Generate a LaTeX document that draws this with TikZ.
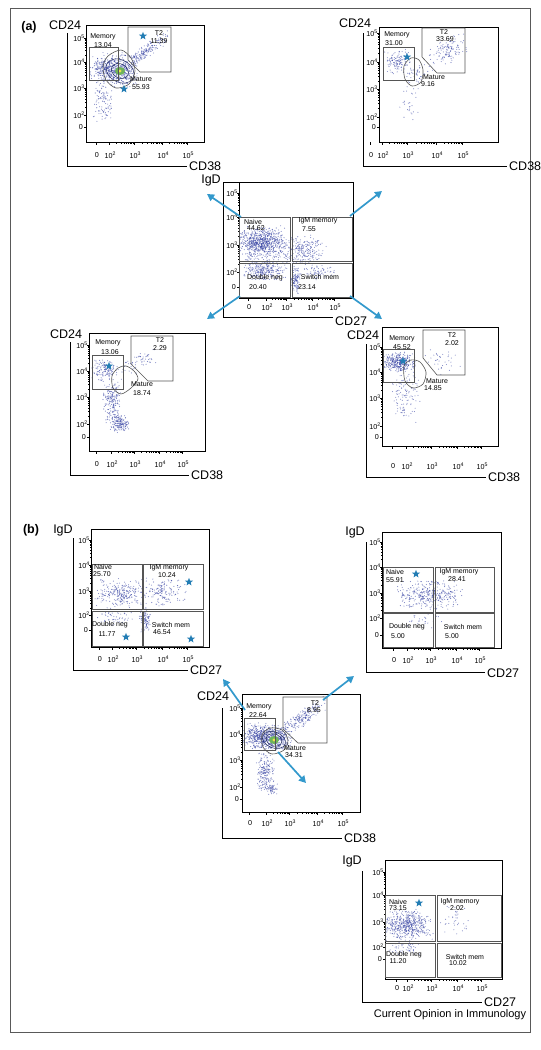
\documentclass[tikz,border=0pt]{standalone}
\usepackage{fontspec}
\setmainfont{Liberation Sans}
\usepackage{tikz}
\usetikzlibrary{shapes.geometric, arrows.meta}

\definecolor{dotblue}{RGB}{60,72,165}
\definecolor{arrblue}{RGB}{51,153,204}
\definecolor{starblue}{RGB}{35,125,180}
\definecolor{gatec}{RGB}{85,85,85}
\definecolor{contour}{RGB}{30,40,95}
\definecolor{coregreen}{RGB}{110,180,90}
\definecolor{coreyellow}{RGB}{235,225,80}

\tikzset{
  boxline/.style={draw=black, line width=0.6pt},
  outerl/.style={draw=black, line width=0.6pt},
  gate/.style={draw=gatec, line width=0.6pt},
  glab/.style={inner sep=0pt, font=\fontsize{7}{7}\selectfont},
  tk/.style={inner sep=0pt, font=\fontsize{7.2}{7}\selectfont},
  tkline/.style={draw=black, line width=0.4pt},
  axt/.style={inner sep=0pt, font=\fontsize{12.5}{13}\selectfont},
  panel/.style={inner sep=0pt, font=\fontsize{12.5}{13}\selectfont\bfseries},
  starmk/.style={star, star points=5, star point ratio=2.4, fill=starblue, inner sep=0pt, minimum size=8.5pt},
  bluearr/.style={draw=arrblue, line width=1.7pt, -{Triangle[length=7pt,width=7.5pt]}},
  contline/.style={draw=contour, line width=0.5pt},
}

\newcommand{\dec}[1]{10\raisebox{0.9ex}{\fontsize{5.2}{5}\selectfont #1}}

% random dots: cx, cy, sx, sy, slope, n
\newcommand{\cloud}[6]{%
  \foreach \i in {1,...,#6}{%
    \pgfmathsetmacro{\cu}{(rand+rand)/2}%
    \pgfmathsetmacro{\cv}{(rand+rand)/2}%
    \fill[dotblue, fill opacity=0.65] ({#1+#3*\cu},{#2+#4*\cv+#5*#3*\cu}) circle (0.55pt);
  }}

% box L T R B, outer line OX OT OB OR
\newcommand{\fcsframe}[8]{%
  \draw[boxline] (#1,#2) rectangle (#3,#4);
  \draw[outerl] (#5,#6) -- (#5,#7) -- (#8,#7);
}

% name, box left, y of 10^5 10^4 10^3 10^2 0
\newcommand{\yticks}[7]{%
  \node[tk, anchor=east] (#1-y5) at (#2-1.5,#3) {\dec{5}};
  \node[tk, anchor=east] (#1-y4) at (#2-1.5,#4) {\dec{4}};
  \node[tk, anchor=east] (#1-y3) at (#2-1.5,#5) {\dec{3}};
  \node[tk, anchor=east] (#1-y2) at (#2-1.5,#6) {\dec{2}};
  \node[tk, anchor=east] (#1-y0) at (#2-3,#7) {0};
  \foreach \t in {#3,#4,#5,#6,#7} \draw[tkline] (#2,\t) -- ++(-2.5,0);
  \foreach \m in {2,...,9}{%
    \draw[tkline] (#2,{#6+(#5-#6)*log10(\m)}) -- ++(-1.5,0);
    \draw[tkline] (#2,{#5+(#4-#5)*log10(\m)}) -- ++(-1.5,0);
    \draw[tkline] (#2,{#4+(#3-#4)*log10(\m)}) -- ++(-1.5,0);
  }}

% name, box bottom, label y, x of 0 10^2 10^3 10^4 10^5
\newcommand{\xticks}[8]{%
  \node[tk] (#1-x0) at (#4,#3) {0};
  \node[tk] (#1-x2) at (#5,#3) {\dec{2}};
  \node[tk] (#1-x3) at (#6,#3) {\dec{3}};
  \node[tk] (#1-x4) at (#7,#3) {\dec{4}};
  \node[tk] (#1-x5) at (#8,#3) {\dec{5}};
  \foreach \t in {#4,#5,#6,#7,#8} \draw[tkline] (\t-1,#2) -- ++(0,2.5);
  \foreach \m in {2,...,9}{%
    \draw[tkline] ({#5-1+(#6-#5)*log10(\m)},#2) -- ++(0,1.5);
    \draw[tkline] ({#6-1+(#7-#6)*log10(\m)},#2) -- ++(0,1.5);
    \draw[tkline] ({#7-1+(#8-#7)*log10(\m)},#2) -- ++(0,1.5);
  }}

\begin{document}
\begin{tikzpicture}[x=1pt, y=-1pt]
  \useasboundingbox (0,0) rectangle (541,1050);
  \pgfmathsetseed{17}
  % Border
  \draw[gray!70!black, line width=0.8pt] (10,8) rectangle (530,1032);
  \node[panel] (pa) at (29,27) {(a)};
  \node[panel] (pb) at (31,530) {(b)};

  % (a) top left
  \begin{scope}
    \clip (86,25) rectangle (204,142);
    \cloud{117}{70}{22}{18}{0}{450}
    \cloud{102}{68}{14}{12}{0}{150}
    \cloud{145}{52}{25}{8}{-0.7}{200}
    \cloud{103}{102}{10}{20}{0}{100}
  \end{scope}
  \draw[contline, rotate around={-30:(120,71)}] (120,71) ellipse [x radius=15pt, y radius=11pt];
  \draw[contline, rotate around={-30:(120,71)}] (120,71) ellipse [x radius=9pt, y radius=7pt];
  \fill[coregreen] (120,71) ellipse [x radius=5pt, y radius=4pt];
  \fill[coreyellow] (120,71) circle (1.6pt);
  \fcsframe{86}{25}{204}{142}{67}{33}{166}{187}
  \yticks{a1}{86}{38}{62}{88}{115}{127}
  \xticks{a1}{142}{155}{97}{110}{135}{163}{188}
  \node[axt] (a1-ttl) at (65,25) {CD24};
  \node[axt, anchor=west] (a1-xt) at (189,166) {CD38};
  \draw[gate] (89,47) rectangle (118,80);
  \draw[gate] (128,27) -- (171,27) -- (171,72) -- (140,72) -- (128,60) -- cycle;
  \draw[gate] plot[smooth cycle] coordinates {(108,56) (121,50) (131,58) (135,71) (129,84) (116,88) (106,80) (103,67)};
  \node[glab] (a1-mem) at (103,37) {Memory};
  \node[glab] (a1-memv) at (103,45) {13.04};
  \node[glab] (a1-t2) at (159,33) {T2};
  \node[glab] (a1-t2v) at (159,41) {11.39};
  \node[glab] (a1-mat) at (141,79) {Mature};
  \node[glab] (a1-matv) at (141,87) {55.93};
  \node[starmk] (a1-s1) at (143,36) {};
  \node[starmk] (a1-s2) at (124,89) {};

  % (a) top right
  \begin{scope}
    \clip (379,27) rectangle (498,142);
    \cloud{398}{62}{16}{13}{0}{120}
    \cloud{446}{52}{22}{14}{-0.4}{120}
    \cloud{418}{74}{12}{10}{0}{40}
    \cloud{410}{100}{12}{24}{0}{30}
  \end{scope}
  \fcsframe{379}{27}{498}{142}{363}{33}{166}{507}
  \yticks{a2}{379}{33}{62}{89}{117}{127}
  \xticks{a2}{142}{155}{371}{383}{408}{437}{463}
  \node[axt] (a2-ttl) at (355,23) {CD24};
  \node[axt, anchor=west] (a2-xt) at (509,166) {CD38};
  \draw[gate] (383,47) rectangle (414,80);
  \draw[gate] (422,28) -- (465,28) -- (465,73) -- (437,73) -- (422,57) -- cycle;
  \draw[gate] plot[smooth cycle] coordinates {(404,66) (411,58) (419,60) (423,70) (421,82) (412,86) (405,79)};
  \node[glab] (a2-mem) at (397,35) {Memory};
  \node[glab] (a2-memv) at (394,43) {31.00};
  \node[glab] (a2-t2) at (444,32) {T2};
  \node[glab] (a2-t2v) at (445,39) {33.69};
  \node[glab] (a2-mat) at (434,77) {Mature};
  \node[glab] (a2-matv) at (428,84) {9.16};
  \node[starmk] (a2-s1) at (407,57) {};

  % (a) centre: IgD vs CD27
  \begin{scope}
    \clip (239,182) rectangle (353,298);
    \cloud{262}{243}{26}{18}{0}{750}
    \cloud{265}{270}{26}{12}{0}{280}
    \cloud{302}{250}{26}{16}{0}{250}
    \cloud{296}{280}{5}{15}{0}{110}
    \cloud{318}{272}{18}{8}{0}{70}
  \end{scope}
  \draw[boxline] (239,182) rectangle (353,298);
  \draw[outerl] (239,182) -- (223,182) -- (223,317) -- (333,317);
  \yticks{c}{239}{193}{217}{245}{272}{287}
  \xticks{c}{298}{307}{249}{267}{287}{313}{335}
  \node[axt] (c-ttl) at (211,180) {IgD};
  \node[axt, anchor=west] (c-xt) at (335,321) {CD27};
  \draw[gate] (239,217) rectangle (290,261);
  \draw[gate] (292,217) rectangle (352,261);
  \draw[gate] (239,263) rectangle (290,297);
  \draw[gate] (292,263) rectangle (352,297);
  \node[glab] (c-nai) at (253,222) {Naive};
  \node[glab] (c-naiv) at (256,228) {44.62};
  \node[glab] (c-igm) at (318,221) {IgM memory};
  \node[glab] (c-igmv) at (309,229) {7.55};
  \node[glab] (c-dn) at (265,278) {Double neg};
  \node[glab] (c-dnv) at (258,287) {20.40};
  \node[glab] (c-sw) at (320,277) {Switch mem};
  \node[glab] (c-swv) at (307,287) {23.14};

  % (a) bottom left
  \begin{scope}
    \clip (89,333) rectangle (205,451);
    \cloud{105}{370}{15}{12}{0}{130}
    \cloud{112}{402}{10}{24}{0}{200}
    \cloud{120}{424}{10}{9}{0}{150}
    \cloud{140}{362}{20}{10}{-0.5}{60}
  \end{scope}
  \fcsframe{89}{333}{205}{451}{70}{342}{475}{189}
  \yticks{a3}{89}{345}{371}{397}{424}{437}
  \xticks{a3}{451}{464}{97}{112}{135}{160}{183}
  \node[axt] (a3-ttl) at (66,334) {CD24};
  \node[axt, anchor=west] (a3-xt) at (191,475) {CD38};
  \draw[gate] (92,355) rectangle (123,389);
  \draw[gate] (131,336) -- (173,336) -- (173,381) -- (148,381) -- (131,364) -- cycle;
  \draw[gate] plot[smooth cycle] coordinates {(112,376) (118,368) (126,366) (134,371) (138,379) (131,388) (121,394) (113,388)};
  \node[glab] (a3-mem) at (108,343) {Memory};
  \node[glab] (a3-memv) at (110,352) {13.06};
  \node[glab] (a3-t2) at (160,340) {T2};
  \node[glab] (a3-t2v) at (160,348) {2.29};
  \node[glab] (a3-mat) at (142,384) {Mature};
  \node[glab] (a3-matv) at (142,393) {18.74};
  \node[starmk] (a3-s1) at (109,366) {};

  % (a) bottom right
  \begin{scope}
    \clip (382,327) rectangle (498,446);
    \cloud{400}{362}{18}{10}{0}{350}
    \cloud{405}{395}{18}{30}{0}{120}
    \cloud{440}{360}{22}{16}{0}{35}
  \end{scope}
  \fcsframe{382}{327}{498}{446}{366}{344}{477}{486}
  \yticks{a4}{382}{347}{372}{398}{426}{437}
  \xticks{a4}{446}{466}{393}{407}{432}{458}{482}
  \node[axt] (a4-ttl) at (363,335) {CD24};
  \node[axt, anchor=west] (a4-xt) at (488,477) {CD38};
  \draw[gate] (383,349) rectangle (414,382);
  \draw[gate] (423,330) -- (465,330) -- (465,375) -- (437,375) -- (423,358) -- cycle;
  \draw[gate] plot[smooth cycle] coordinates {(404,366) (411,360) (420,362) (426,372) (423,384) (413,388) (405,381)};
  \node[glab] (a4-mem) at (402,339) {Memory};
  \node[glab] (a4-memv) at (402,347) {45.52};
  \node[glab] (a4-t2) at (452,335) {T2};
  \node[glab] (a4-t2v) at (452,343) {2.02};
  \node[glab] (a4-mat) at (437,381) {Mature};
  \node[glab] (a4-matv) at (433,388) {14.85};
  \node[starmk] (a4-s1) at (403,361) {};

  % (a) arrows
  \coordinate (c-nw) at (241,217);
  \coordinate (c-nw-tip) at (207,194);
  \coordinate (c-ne) at (350,216);
  \coordinate (c-ne-tip) at (382,191);
  \coordinate (c-sw) at (240,296);
  \coordinate (c-sw-tip) at (207,319);
  \coordinate (c-se) at (350,296);
  \coordinate (c-se-tip) at (382,319);
  \draw[bluearr] (c-nw) -- (c-nw-tip);
  \draw[bluearr] (c-ne) -- (c-ne-tip);
  \draw[bluearr] (c-sw) -- (c-sw-tip);
  \draw[bluearr] (c-se) -- (c-se-tip);

  % (b) top left
  \begin{scope}
    \clip (91,529) rectangle (209,647);
    \cloud{120}{594}{26}{16}{0}{250}
    \cloud{162}{592}{26}{16}{0}{160}
    \cloud{145}{620}{6}{14}{0}{100}
    \cloud{115}{618}{20}{8}{0}{50}
  \end{scope}
  \fcsframe{91}{529}{209}{647}{73}{538}{670}{188}
  \yticks{b1}{91}{540}{565}{591}{615}{630}
  \xticks{b1}{647}{659}{100}{113}{137}{163}{188}
  \node[axt] (b1-ttl) at (63,530) {IgD};
  \node[axt, anchor=west] (b1-xt) at (190,670) {CD27};
  \draw[gate] (92,564) rectangle (142,609);
  \draw[gate] (143,564) rectangle (203,609);
  \draw[gate] (92,611) rectangle (142,646);
  \draw[gate] (143,611) rectangle (203,646);
  \node[glab] (b1-nai) at (103,567) {Naive};
  \node[glab] (b1-naiv) at (102,574) {25.70};
  \node[glab] (b1-igm) at (169,568) {IgM memory};
  \node[glab] (b1-igmv) at (167,575) {10.24};
  \node[glab] (b1-dn) at (110,625) {Double neg};
  \node[glab] (b1-dnv) at (107,634) {11.77};
  \node[glab] (b1-sw) at (171,625) {Switch mem};
  \node[glab] (b1-swv) at (162,632) {46.54};
  \node[starmk] (b1-s1) at (189,582) {};
  \node[starmk] (b1-s2) at (126,637) {};
  \node[starmk] (b1-s3) at (191,639) {};

  % (b) top right
  \begin{scope}
    \clip (382,532) rectangle (501,648);
    \cloud{430}{595}{35}{16}{0}{350}
    \cloud{420}{620}{25}{8}{0}{25}
  \end{scope}
  \fcsframe{382}{532}{501}{648}{366}{542}{672}{485}
  \yticks{b2}{382}{542}{567}{593}{618}{635}
  \xticks{b2}{648}{660}{394}{408}{431}{457}{480}
  \node[axt] (b2-ttl) at (355,532) {IgD};
  \node[axt, anchor=west] (b2-xt) at (487,673) {CD27};
  \draw[gate] (383,567) rectangle (433,612);
  \draw[gate] (435,567) rectangle (494,612);
  \draw[gate] (383,613) rectangle (433,647);
  \draw[gate] (435,613) rectangle (494,647);
  \node[glab] (b2-nai) at (395,572) {Naive};
  \node[glab] (b2-naiv) at (395,580) {55.91};
  \node[glab] (b2-igm) at (459,572) {IgM memory};
  \node[glab] (b2-igmv) at (457,579) {28.41};
  \node[glab] (b2-dn) at (407,627) {Double neg};
  \node[glab] (b2-dnv) at (398,636) {5.00};
  \node[glab] (b2-sw) at (463,627) {Switch mem};
  \node[glab] (b2-swv) at (452,636) {5.00};
  \node[starmk] (b2-s1) at (416,574) {};

  % (b) centre: CD24 vs CD38
  \begin{scope}
    \clip (242,694) rectangle (360,812);
    \cloud{272}{738}{22}{14}{0}{500}
    \cloud{255}{735}{13}{14}{0}{200}
    \cloud{302}{718}{25}{10}{-0.7}{200}
    \cloud{265}{772}{10}{22}{0}{200}
    \cloud{272}{789}{6}{6}{0}{50}
  \end{scope}
  \draw[contline, rotate around={-20:(274,740)}] (274,740) ellipse [x radius=12pt, y radius=8pt];
  \draw[contline, rotate around={-20:(274,740)}] (274,740) ellipse [x radius=8pt, y radius=6pt];
  \fill[coregreen] (274,740) ellipse [x radius=5pt, y radius=4pt];
  \fill[coreyellow] (274,740) circle (1.6pt);
  \fcsframe{242}{694}{360}{812}{222}{708}{838}{342}
  \yticks{b3}{242}{708}{734}{760}{787}{799}
  \xticks{b3}{812}{823}{250}{267}{290}{318}{343}
  \node[axt] (b3-ttl) at (213,696) {CD24};
  \node[axt, anchor=west] (b3-xt) at (344,838) {CD38};
  \draw[gate] (244,718) rectangle (275,750);
  \draw[gate] (283,697) -- (327,697) -- (327,743) -- (298,743) -- (283,729) -- cycle;
  \draw[gate] plot[smooth cycle] coordinates {(262,735) (270,728) (282,730) (288,740) (284,750) (272,754) (263,747)};
  \node[glab] (b3-mem) at (259,707) {Memory};
  \node[glab] (b3-memv) at (258,715) {22.64};
  \node[glab] (b3-t2) at (315,703) {T2};
  \node[glab] (b3-t2v) at (314,710) {8.95};
  \node[glab] (b3-mat) at (295,748) {Mature};
  \node[glab] (b3-matv) at (294,755) {34.31};

  % (b) bottom right
  \begin{scope}
    \clip (385,860) rectangle (502,979);
    \cloud{408}{925}{26}{16}{0}{500}
    \cloud{455}{922}{20}{18}{0}{35}
    \cloud{405}{948}{20}{8}{0}{50}
  \end{scope}
  \fcsframe{385}{860}{502}{979}{362}{871}{1002}{482}
  \yticks{b4}{385}{872}{895}{922}{947}{959}
  \xticks{b4}{979}{988}{397}{408}{432}{458}{482}
  \node[axt] (b4-ttl) at (352,861) {IgD};
  \node[axt, anchor=west] (b4-xt) at (484,1002) {CD27};
  \draw[gate] (385,895) rectangle (435,941);
  \draw[gate] (437,895) rectangle (501,941);
  \draw[gate] (385,943) rectangle (435,977);
  \draw[gate] (437,943) rectangle (501,977);
  \node[glab] (b4-nai) at (398,902) {Naive};
  \node[glab] (b4-naiv) at (398,908) {73.15};
  \node[glab] (b4-igm) at (460,902) {IgM memory};
  \node[glab] (b4-igmv) at (457,908) {2.02};
  \node[glab] (b4-dn) at (404,955) {Double neg};
  \node[glab] (b4-dnv) at (398,961) {11.20};
  \node[glab] (b4-sw) at (465,957) {Switch mem};
  \node[glab] (b4-swv) at (458,963) {10.02};
  \node[starmk] (b4-s1) at (419,903) {};

  % (b) arrows
  \coordinate (b3-nw) at (245,710);
  \coordinate (b3-nw-tip) at (223,679);
  \coordinate (b3-ne) at (323,700);
  \coordinate (b3-ne-tip) at (354,676);
  \coordinate (b3-se) at (278,752);
  \coordinate (b3-se-tip) at (306,783);
  \draw[bluearr] (b3-nw) -- (b3-nw-tip);
  \draw[bluearr] (b3-ne) -- (b3-ne-tip);
  \draw[bluearr] (b3-se) -- (b3-se-tip);

  \node[inner sep=0pt, font=\fontsize{11}{12}\selectfont] (src) at (450,1015) {Current Opinion in Immunology};
\end{tikzpicture}
\end{document}
